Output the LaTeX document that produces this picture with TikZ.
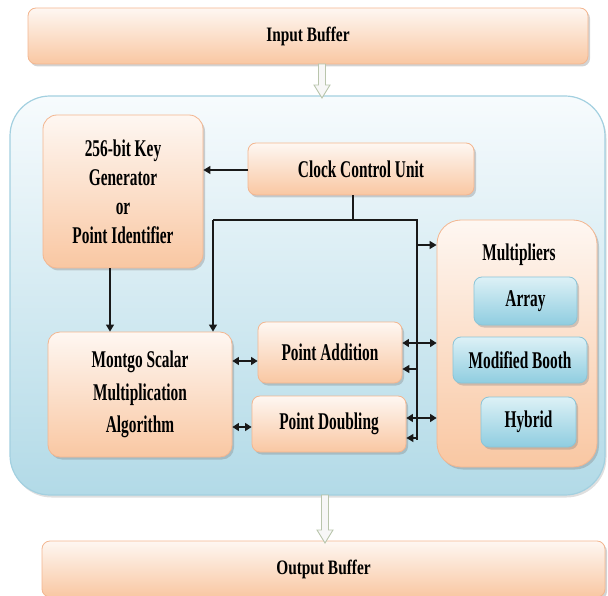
\documentclass[tikz,border=0pt]{standalone}
\usepackage{fontspec}
\setmainfont{Liberation Serif}[FakeStretch=0.7]
\newfontfamily\condbig{Liberation Serif}[FakeStretch=0.64]
\newfontfamily\condbuf{Liberation Serif}[FakeStretch=0.75]
\usetikzlibrary{arrows.meta,shadows}
\definecolor{otop}{HTML}{FEF7F2}
\definecolor{obot}{HTML}{F9C7A2}
\definecolor{oborder}{HTML}{F3B690}
\definecolor{btop}{HTML}{DDF1F6}
\definecolor{bbot}{HTML}{8FCDE0}
\definecolor{bborder}{HTML}{8BC4D7}
\definecolor{ctop}{HTML}{F7FBFD}
\definecolor{cbot}{HTML}{B2DAE7}
\definecolor{cborder}{HTML}{A3D0E0}
\definecolor{harrow}{HTML}{B9C5AC}
\begin{document}
\begin{tikzpicture}[x=1pt,y=-1pt,
  lbl/.style={font=\condbig\bfseries\fontsize{24}{29}\selectfont, align=center, text=black},
  buflbl/.style={font=\condbuf\bfseries\fontsize{20.5}{24}\selectfont},
  obox/.style={draw=oborder, line width=0.8pt, top color=otop, bottom color=obot,
    rounded corners=#1, inner sep=0pt, lbl,
    drop shadow={opacity=0.35, shadow xshift=2pt, shadow yshift=-2.5pt}},
  obox/.default=8pt,
  bbox/.style={draw=bborder, line width=0.8pt, top color=btop, bottom color=bbot,
    rounded corners=8pt, inner sep=0pt, lbl,
    drop shadow={opacity=0.35, shadow xshift=2pt, shadow yshift=-2.5pt}},
  container/.style={draw=cborder, line width=1.2pt, top color=ctop, bottom color=cbot,
    rounded corners=40pt, inner sep=0pt,
    drop shadow={opacity=0.25, shadow xshift=1.5pt, shadow yshift=-2.5pt}},
  hollow/.style={draw=harrow, line width=0.9pt, fill=white!94!gray},
  conn/.style={line width=1.2pt, draw=black!90},
  tip/.style={conn, -{Triangle[length=7pt,width=8pt]}},
  dtip/.style={conn, {Triangle[length=6.5pt,width=8pt]}-{Triangle[length=6.5pt,width=8pt]}},
]
\useasboundingbox (0,0) rectangle (608,596);
\clip (0,0) rectangle (608,596);

% buffers
\node[obox, buflbl, minimum width=560, minimum height=56] (inbuf) at (308,36) {Input Buffer};
\node[container, minimum width=595, minimum height=399] (core) at (307.5,295.5) {};
\node[obox, buflbl, minimum width=563, minimum height=56] (outbuf) at (323.5,569) {Output Buffer};

% hollow arrows
\draw[hollow] (318.5,64) -- (318.5,85) -- (314,85) -- (322,98) -- (330,85) -- (325.5,85) -- (325.5,64) -- cycle;
\draw[hollow] (321.5,495) -- (321.5,530) -- (317,530) -- (325,543) -- (333,530) -- (328.5,530) -- (328.5,495) -- cycle;

% blocks
\node[obox=14pt, minimum width=160, minimum height=153] (key) at (123,191.5)
  {256-bit Key\\Generator\\or\\Point Identifier};
\node[obox, minimum width=226, minimum height=52] (clock) at (361,169) {Clock Control Unit};
\node[obox=24pt, minimum width=160, minimum height=247] (mult) at (517,343.5) {};
\node[lbl] (multt) at (519,255) {Multipliers};
\node[bbox, minimum width=103, minimum height=48] (array) at (525.5,301) {Array};
\node[bbox, minimum width=134, minimum height=46] (booth) at (520,360) {Modified Booth};
\node[bbox, minimum width=95, minimum height=50] (hybrid) at (528.5,422) {Hybrid};
\node[obox=12pt, minimum width=184, minimum height=125, font=\condbig\bfseries\fontsize{24}{32.5}\selectfont] (mont) at (140,394.5)
  {Montgo Scalar\\Multiplication\\Algorithm};
\node[obox, minimum width=144, minimum height=61] (pa) at (330,352.5) {Point Addition};
\node[obox, minimum width=154, minimum height=56] (pd) at (329,424) {Point Doubling};

% connectors
\coordinate (cd) at (353,220);
\coordinate (tl) at (213,220);
\coordinate (tr) at (417,220);
\coordinate (bt) at (417,440);
\draw[tip] (clock.west |- 0,170) -- (key.east |- 0,170);
\draw[conn] (clock.south -| cd) -- (cd);
\draw[conn] (tl) -- (tr) -- (bt);
\draw[tip] (tl) -- (tl |- mont.north);
\draw[tip] (key.south -| 110,0) -- (mont.north -| 110,0);
\draw[tip] (tr |- 0,245) -- (mult.west |- 0,245);
\draw[tip] (tr |- 0,369) -- (pa.east |- 0,369);
\draw[tip] (tr |- 0,438) -- (pd.east |- 0,438);
\draw[dtip] (pa.east |- 0,343) -- (mult.west |- 0,343);
\draw[dtip] (pd.east |- 0,418) -- (mult.west |- 0,418);
\draw[dtip] (mont.east |- 0,361) -- (pa.west |- 0,361);
\draw[dtip] (mont.east |- 0,427) -- (pd.west |- 0,427);
\end{tikzpicture}
\end{document}
